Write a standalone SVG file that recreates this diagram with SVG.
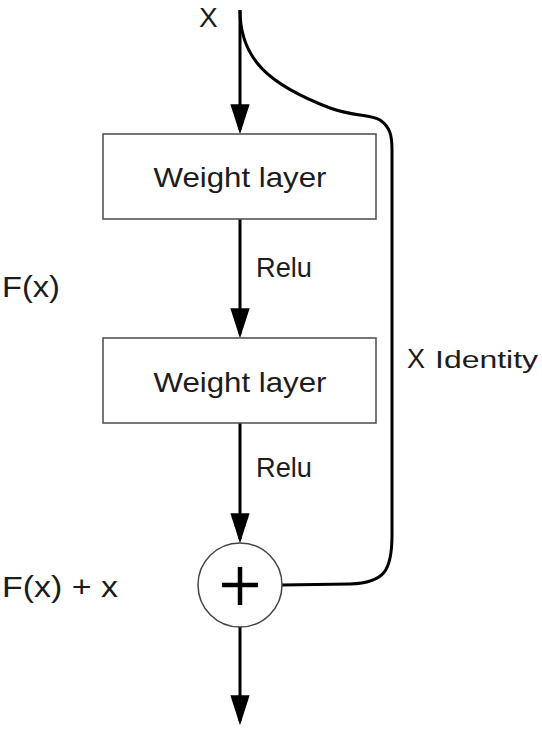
<svg xmlns="http://www.w3.org/2000/svg" width="542" height="730" viewBox="0 0 542 730">
<style>
  .box{fill:#fff;stroke:#555;stroke-width:1.6}
  .lbl{font-family:"Liberation Sans",Arial,sans-serif;fill:#1c1c1c}
  .wire{fill:none;stroke:#000;stroke-width:3}
</style>
<defs>
  <marker id="ah" markerUnits="userSpaceOnUse" markerWidth="30" markerHeight="20" viewBox="0 0 28 18" refX="24" refY="9" orient="auto">
    <path d="M0,0 L28,9 L0,18 Z" fill="#000"/>
  </marker>
</defs>
<rect width="542" height="730" fill="#fff"/>
<g id="connectors">
  <line class="wire" x1="240" y1="10" x2="240" y2="130" marker-end="url(#ah)"/>
  <line class="wire" x1="240" y1="219" x2="240" y2="334" marker-end="url(#ah)"/>
  <line class="wire" x1="240" y1="423" x2="240" y2="539" marker-end="url(#ah)"/>
  <line class="wire" x1="240" y1="627" x2="240" y2="721" marker-end="url(#ah)"/>
  <path class="wire" d="M240,10 C240,60 270,85 330,108 C355,117 370,114 380,120 C390,127 392,135 392,150 L392,535 C392,570 385,583 350,584 L282,585"/>
</g>
<g id="input-x"><text class="lbl" x="199" y="27" font-size="28">X</text></g>
<g id="weight1">
  <rect class="box" x="103" y="134" width="273" height="85"/>
  <text class="lbl" x="240" y="187" font-size="28" text-anchor="middle" textLength="173" lengthAdjust="spacingAndGlyphs">Weight layer</text>
</g>
<g id="relu1"><text class="lbl" x="256" y="277" font-size="27" textLength="56" lengthAdjust="spacingAndGlyphs">Relu</text></g>
<g id="weight2">
  <rect class="box" x="103" y="338" width="273" height="85"/>
  <text class="lbl" x="240" y="392" font-size="28" text-anchor="middle" textLength="173" lengthAdjust="spacingAndGlyphs">Weight layer</text>
</g>
<g id="relu2"><text class="lbl" x="256" y="477" font-size="27" textLength="56" lengthAdjust="spacingAndGlyphs">Relu</text></g>
<g id="fx"><text class="lbl" x="2" y="297" font-size="30" textLength="58" lengthAdjust="spacingAndGlyphs">F(x)</text></g>
<g id="identity">
  <text class="lbl" x="407" y="368" font-size="27">X</text>
  <text class="lbl" x="435" y="368" font-size="23" textLength="103" lengthAdjust="spacingAndGlyphs">Identity</text>
</g>
<g id="sum">
  <circle cx="240" cy="585" r="42" fill="#fff" stroke="#444" stroke-width="1.5"/>
  <path d="M222,585 H258 M240,567 V605" stroke="#000" stroke-width="4.5" fill="none"/>
</g>
<g id="fxplusx"><text class="lbl" x="2" y="597" font-size="30" textLength="116" lengthAdjust="spacingAndGlyphs">F(x) + x</text></g>
</svg>
